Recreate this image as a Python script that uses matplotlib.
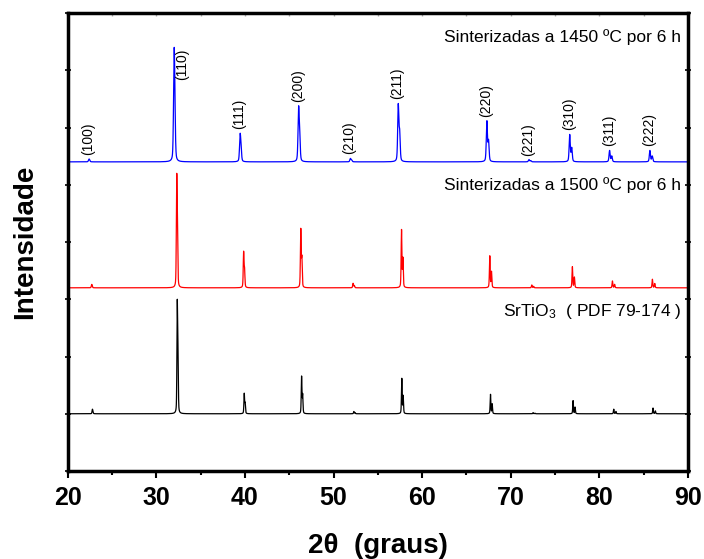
import numpy as np
import matplotlib
matplotlib.use("Agg")
import matplotlib.pyplot as plt
from matplotlib.ticker import MultipleLocator

plt.rcParams['font.family'] = ['Liberation Sans', 'DejaVu Sans']
plt.rcParams['mathtext.fontset'] = 'custom'
plt.rcParams['mathtext.rm'] = 'Liberation Sans'
plt.rcParams['mathtext.it'] = 'Liberation Sans:italic'
plt.rcParams['mathtext.bf'] = 'Liberation Sans:bold'

# peak list (2theta in degrees, height in % of strongest peak)
hkl = ['(100)', '(110)', '(111)', '(200)', '(210)', '(211)',
       '(220)', '(221)', '(310)', '(311)', '(222)']

pos_1450 = [22.4, 32.0, 39.45, 46.05, 51.9, 57.3, 67.3, 72.05, 76.65, 81.15, 85.7]
int_1450 = [2.5, 100, 25, 49, 3, 51, 36, 2, 24, 10, 10]

pos_1500 = [22.7, 32.3, 39.85, 46.3, 52.2, 57.67, 67.63, 72.37, 76.95, 81.47, 85.98]
int_1500 = [3, 100, 32, 52, 4, 51, 28, 2.5, 18.5, 6, 7.5]

pos_pdf = [22.78, 32.36, 39.92, 46.39, 52.29, 57.7, 67.71, 72.52, 77.03, 81.62, 86.05]
int_pdf = [4, 100, 18, 33, 2, 31, 17, 1, 11.5, 4, 5]

labels = ['Sinterizadas a 1450 ºC por 6 h',
          'Sinterizadas a 1500 ºC por 6 h',
          'SrTiO$_3$  ( PDF 79-174 )']
offsets = [5.4, 3.2, 1.0]
colors = ['#0000ff', '#ff0000', '#000000']
fwhm = [0.15, 0.1, 0.09]
scale = 2.0 / 100.0


def pattern(x, pos, inten, w):
    # pseudo-Voigt for K-alpha1 plus K-alpha2 at half height, each peak scaled to its height
    y = np.zeros_like(x)
    for p, h in zip(pos, inten):
        d2 = np.degrees(2 * 0.00247 * np.tan(np.radians(p / 2)))
        one = np.zeros_like(x)
        for c, f in ((p, 1.0), (p + d2, 0.5)):
            u = (x - c) / (w / 2)
            one += f * (0.4 / (1 + u ** 2) + 0.6 * np.exp(-np.log(2) * u ** 2))
        y += h * one / one.max()
    return y


x = np.linspace(20, 90, 14001)

fig = plt.figure(figsize=(7.04, 5.59), dpi=100)
ax = fig.add_axes([0.0962, 0.1574, 0.8811, 0.8193])

series = [(pos_1450, int_1450), (pos_1500, int_1500), (pos_pdf, int_pdf)]
for (pos, inten), off, col, w in zip(series, offsets, colors, fwhm):
    ax.plot(x, off + scale * pattern(x, pos, inten, w), color=col, lw=0.9)

# Miller indices over the 1450 pattern
for p, h, name in zip(pos_1450, int_1450, hkl):
    top = offsets[0] + scale * h
    if h == 100:
        ax.text(p + 0.9, top - 0.02, name, rotation=90, ha='center', va='top', fontsize=10)
    else:
        ax.text(p - 0.1, top + 0.07, name, rotation=90, ha='center', va='bottom', fontsize=10)

text_y = [7.58, 5.0, 2.78]
for lab, ty in zip(labels, text_y):
    ax.text(89.2, ty, lab, ha='right', va='center', fontsize=12.5)

ax.set_xlim(20, 90)
ax.set_ylim(0, 8)
ax.xaxis.set_major_locator(MultipleLocator(10))
ax.xaxis.set_minor_locator(MultipleLocator(5))
ax.yaxis.set_major_locator(MultipleLocator(1))
ax.set_yticklabels([])

for s in ax.spines.values():
    s.set_linewidth(2.5)

ax.tick_params(axis='x', which='major', direction='out', length=5, width=1.5,
               labelsize=18, pad=6)
ax.tick_params(axis='x', which='minor', direction='out', length=3, width=1.5)
ax.tick_params(axis='x', which='both', top=False, labeltop=False)
ax.tick_params(axis='y', which='major', direction='inout', length=4, width=1.2,
               left=True, right=True)
for t in ax.get_xticklabels():
    t.set_fontweight('bold')

# faint inward ticks along the top edge
sec = ax.secondary_xaxis('top')
sec.xaxis.set_major_locator(MultipleLocator(5))
sec.tick_params(direction='in', length=2, width=1, colors='#aaaaaa', labeltop=False)
sec.spines['top'].set_visible(False)

ax.set_xlabel('2θ  (graus)', fontsize=20, fontweight='bold', labelpad=16)
ax.set_ylabel('Intensidade', fontsize=20, fontweight='bold', labelpad=16)

fig.savefig('out.png', dpi=100)
